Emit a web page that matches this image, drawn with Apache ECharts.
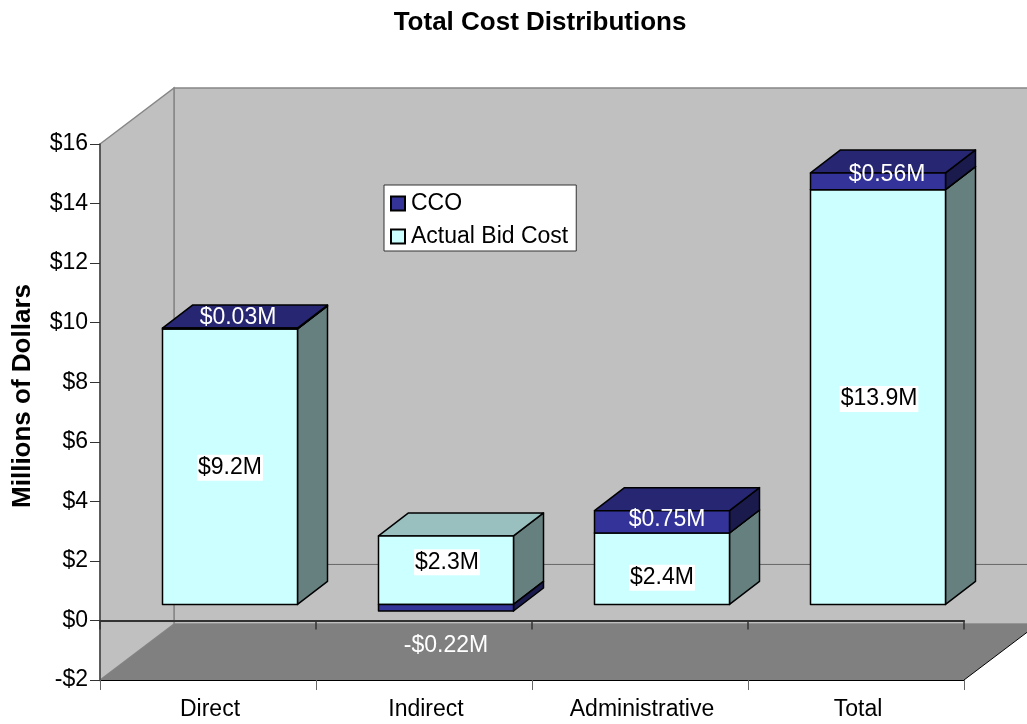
<!DOCTYPE html>
<html>
<head>
<meta charset="utf-8">
<title>Total Cost Distributions</title>
<script src="https://cdn.jsdelivr.net/npm/echarts@6/dist/echarts.min.js"></script>
<style>
  html, body { margin: 0; padding: 0; background: #fff; }
  #chart { width: 1027px; height: 724px; }
</style>
</head>
<body>
<div id="chart"></div>
<script>
  const categories = ['Direct', 'Indirect', 'Administrative', 'Total']
  const actualBid = [9.25, 2.3, 2.4, 13.93]
  const cco = [0.03, -0.22, 0.75, 0.56]
  const actualBidLabels = ['$9.2M', '$2.3M', '$2.4M', '$13.9M']
  const ccoLabels = ['$0.03M', '-$0.22M', '$0.75M', '$0.56M']

  const FONT = 'Arial, "Liberation Sans", sans-serif'
  // fake 3d: projection of the chart depth, in px
  const WALL_DX = 74
  const WALL_DY = -56
  const BAR_DX = 30
  const BAR_DY = -23
  const BAR_OFF_X = 22
  const BAR_OFF_Y = -16
  const BAR_RATIO = 0.625
  // excel puts the labels a little off the face centre
  const bidNudge = [[0, 1], [1, -8], [0, 9], [1, 2]]
  const ccoNudge = [[8, -11], [0, 38], [5, -2], [9, -7]]

  function poly(points, fill) {
    return {
      type: 'polygon',
      shape: { points: points },
      style: { fill: fill, stroke: '#000', lineWidth: 1.5, lineJoin: 'round' },
    }
  }

  function renderWalls(params, api) {
    const c = params.coordSys
    const bottom = c.y + c.height
    const right = c.x + c.width
    const zeroY = api.coord([0, 0])[1]
    const wallStyle = { fill: '#c0c0c0', stroke: '#868686', lineWidth: 1.5 }
    return {
      type: 'group',
      children: [
        {
          type: 'polygon',
          shape: {
            points: [
              [c.x + WALL_DX, c.y + WALL_DY],
              [right + WALL_DX, c.y + WALL_DY],
              [right + WALL_DX, bottom + WALL_DY],
              [c.x + WALL_DX, bottom + WALL_DY],
            ],
          },
          style: wallStyle,
        },
        {
          type: 'polygon',
          shape: {
            points: [
              [c.x, c.y],
              [c.x + WALL_DX, c.y + WALL_DY],
              [c.x + WALL_DX, bottom + WALL_DY],
              [c.x, bottom],
            ],
          },
          style: wallStyle,
        },
        {
          type: 'polygon',
          shape: {
            points: [
              [c.x, bottom],
              [right, bottom],
              [right + WALL_DX, bottom + WALL_DY],
              [c.x + WALL_DX, bottom + WALL_DY],
            ],
          },
          style: { fill: '#808080' },
        },
        {
          type: 'line',
          shape: { x1: right, y1: bottom, x2: right + WALL_DX, y2: bottom + WALL_DY },
          style: { stroke: '#000', lineWidth: 1 },
        },
        {
          type: 'line',
          shape: {
            x1: c.x + WALL_DX,
            y1: zeroY + WALL_DY,
            x2: right + WALL_DX,
            y2: zeroY + WALL_DY,
          },
          style: { stroke: '#666', lineWidth: 1 },
        },
      ],
    }
  }

  function makeRender(colors, labels, nudge, labelColor, labelBg) {
    return function (params, api) {
      const i = api.value(0)
      const from = api.value(1)
      const to = api.value(2)
      const w = api.size([1, 0])[0] * BAR_RATIO
      const cx = api.coord([i, 0])[0] + BAR_OFF_X
      const yA = api.coord([i, from])[1] + BAR_OFF_Y
      const yB = api.coord([i, to])[1] + BAR_OFF_Y
      const top = Math.min(yA, yB)
      const bot = Math.max(yA, yB)
      const l = cx - w / 2
      const r = cx + w / 2
      const children = [
        poly([[r, top], [r + BAR_DX, top + BAR_DY], [r + BAR_DX, bot + BAR_DY], [r, bot]], colors.side),
      ]
      // top face of a bar that hangs below zero sits inside the bar above it
      if (to > from) {
        children.push(
          poly([[l, top], [l + BAR_DX, top + BAR_DY], [r + BAR_DX, top + BAR_DY], [r, top]], colors.top)
        )
      }
      children.push(poly([[l, top], [r, top], [r, bot], [l, bot]], colors.front))
      children.push({
        type: 'text',
        z2: 10,
        style: {
          text: labels[i],
          x: cx + nudge[i][0],
          y: (top + bot) / 2 + nudge[i][1],
          align: 'center',
          verticalAlign: 'middle',
          fill: labelColor,
          font: '23px ' + FONT,
          backgroundColor: labelBg,
          padding: labelBg ? [2, 1, 1, 1] : 0,
        },
      })
      return { type: 'group', children: children }
    }
  }

  const bidData = categories.map((name, i) => [i, 0, actualBid[i]])
  const ccoData = categories.map((name, i) =>
    cco[i] < 0 ? [i, 0, cco[i]] : [i, actualBid[i], actualBid[i] + cco[i]]
  )

  const chart = echarts.init(document.getElementById('chart'))
  chart.setOption({
    animation: false,
    backgroundColor: '#fff',
    textStyle: { fontFamily: FONT },
    title: {
      text: 'Total Cost Distributions',
      left: 540,
      top: 10,
      padding: 0,
      textAlign: 'center',
      textStyle: { fontFamily: FONT, fontSize: 26, fontWeight: 'bold', color: '#000' },
    },
    legend: {
      data: ['CCO', 'Actual Bid Cost'],
      orient: 'vertical',
      left: 384,
      top: 185,
      padding: [7, 8, 3, 6],
      itemWidth: 14,
      itemHeight: 14,
      itemGap: 10,
      backgroundColor: '#fff',
      borderColor: '#333',
      borderWidth: 1,
      selectedMode: false,
      icon: 'rect',
      textStyle: { fontFamily: FONT, fontSize: 23, color: '#000', padding: [0, 0, 0, 1] },
    },
    grid: { left: 100, right: 63, top: 144, bottom: 44 },
    xAxis: [
      {
        type: 'category',
        data: categories,
        position: 'bottom',
        axisLine: { onZero: false, lineStyle: { color: '#000', width: 1 } },
        axisTick: { show: true, length: 10, lineStyle: { color: '#666' } },
        axisLabel: {
          color: '#000',
          fontSize: 23,
          margin: 18,
          interval: 0,
          fontFamily: FONT,
          padding: [0, 0, 0, 4],
        },
      },
      {
        type: 'category',
        data: categories,
        position: 'bottom',
        axisLine: { onZero: true, lineStyle: { color: '#333', width: 2 } },
        axisTick: { show: true, length: 9, lineStyle: { color: '#333', width: 1.5 } },
        axisLabel: { show: false },
      },
    ],
    yAxis: {
      type: 'value',
      min: -2,
      max: 16,
      interval: 2,
      name: 'Millions of Dollars',
      nameLocation: 'middle',
      nameGap: 64,
      nameTextStyle: {
        fontFamily: FONT,
        fontSize: 26,
        fontWeight: 'bold',
        color: '#000',
        padding: [0, 0, 0, 32],
      },
      axisLine: { show: true, onZero: false, lineStyle: { color: '#444', width: 1.5 } },
      axisTick: { show: true, length: 10, lineStyle: { color: '#333' } },
      axisLabel: {
        color: '#000',
        fontSize: 23,
        margin: 12,
        fontFamily: FONT,
        padding: [5, 0, 0, 0],
        formatter: (v) => (v < 0 ? '-$' + -v : '$' + v),
      },
      splitLine: { show: false },
    },
    series: [
      {
        name: 'walls',
        type: 'custom',
        z: -1,
        silent: true,
        coordinateSystem: 'cartesian2d',
        renderItem: renderWalls,
        data: [[0, 0]],
      },
      {
        name: 'Actual Bid Cost',
        type: 'custom',
        coordinateSystem: 'cartesian2d',
        silent: true,
        itemStyle: { color: '#ccffff', borderColor: '#000', borderWidth: 1 },
        encode: { x: 0, y: [1, 2] },
        renderItem: makeRender(
          { front: '#ccffff', top: '#99bfbf', side: '#668080' },
          actualBidLabels,
          bidNudge,
          '#000',
          '#fff'
        ),
        data: bidData,
      },
      {
        name: 'CCO',
        type: 'custom',
        coordinateSystem: 'cartesian2d',
        silent: true,
        itemStyle: { color: '#333399', borderColor: '#000', borderWidth: 1 },
        encode: { x: 0, y: [1, 2] },
        renderItem: makeRender(
          { front: '#333399', top: '#262673', side: '#1a1a4d' },
          ccoLabels,
          ccoNudge,
          '#fff',
          null
        ),
        data: ccoData,
      },
    ],
  })
</script>
</body>
</html>
